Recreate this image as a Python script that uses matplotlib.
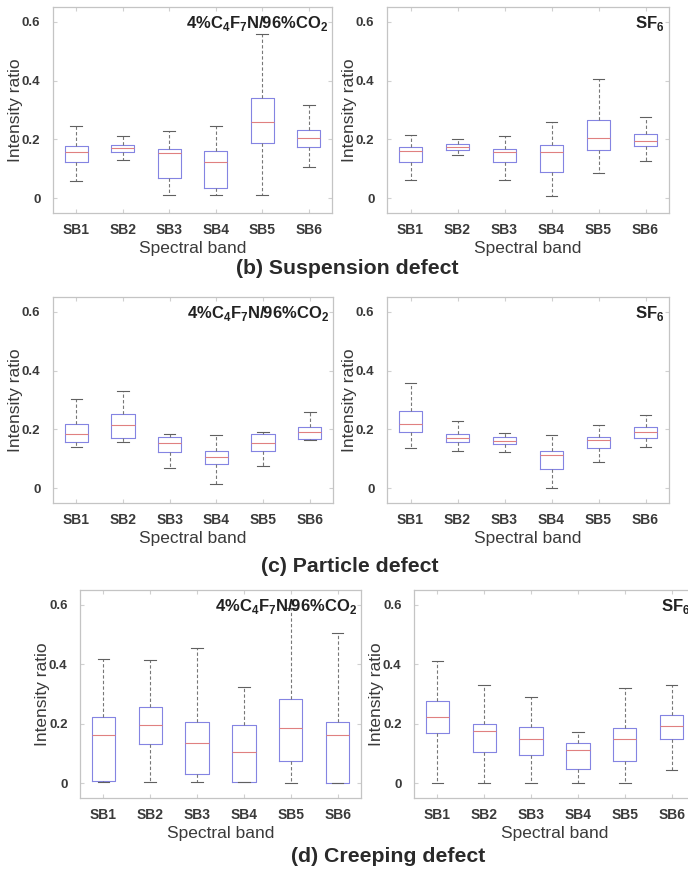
import matplotlib
matplotlib.use("Agg")
import matplotlib.pyplot as plt

plt.rcParams['font.family'] = ['Liberation Sans', 'DejaVu Sans']
plt.rcParams['mathtext.fontset'] = 'custom'
plt.rcParams['mathtext.bf'] = 'Liberation Sans:bold'
plt.rcParams['mathtext.rm'] = 'Liberation Sans:bold'

# -------- data: (whisker low, q1, median, q3, whisker high) per band --------
bands = ["SB1", "SB2", "SB3", "SB4", "SB5", "SB6"]

susp_c4 = [(0.06, 0.122, 0.157, 0.176, 0.244),
           (0.13, 0.157, 0.17, 0.18, 0.21),
           (0.01, 0.07, 0.153, 0.167, 0.227),
           (0.01, 0.034, 0.125, 0.159, 0.244),
           (0.01, 0.188, 0.258, 0.341, 0.557),
           (0.105, 0.173, 0.205, 0.231, 0.316)]
susp_sf6 = [(0.063, 0.125, 0.159, 0.173, 0.216),
            (0.148, 0.165, 0.174, 0.184, 0.202),
            (0.063, 0.125, 0.157, 0.168, 0.21),
            (0.009, 0.091, 0.157, 0.182, 0.259),
            (0.085, 0.165, 0.205, 0.267, 0.406),
            (0.128, 0.176, 0.195, 0.218, 0.276)]

part_c4 = [(0.139, 0.157, 0.185, 0.219, 0.303),
           (0.157, 0.17, 0.216, 0.252, 0.33),
           (0.068, 0.125, 0.153, 0.174, 0.185),
           (0.014, 0.082, 0.105, 0.127, 0.18),
           (0.077, 0.128, 0.153, 0.184, 0.19),
           (0.165, 0.168, 0.191, 0.207, 0.26)]
part_sf6 = [(0.136, 0.191, 0.219, 0.261, 0.358),
            (0.127, 0.157, 0.17, 0.185, 0.227),
            (0.122, 0.15, 0.161, 0.173, 0.188),
            (0.0, 0.065, 0.114, 0.128, 0.18),
            (0.091, 0.136, 0.165, 0.174, 0.214),
            (0.139, 0.17, 0.19, 0.207, 0.25)]

creep_c4 = [(0.003, 0.008, 0.162, 0.223, 0.419),
            (0.003, 0.132, 0.195, 0.257, 0.413),
            (0.003, 0.031, 0.134, 0.207, 0.455),
            (0.003, 0.003, 0.104, 0.196, 0.323),
            (0.0, 0.076, 0.187, 0.283, 0.589),
            (0.0, 0.0, 0.161, 0.206, 0.504)]
creep_sf6 = [(0.0, 0.168, 0.223, 0.277, 0.41),
             (0.0, 0.104, 0.176, 0.2, 0.331),
             (0.0, 0.094, 0.15, 0.189, 0.289),
             (0.0, 0.049, 0.113, 0.136, 0.172),
             (0.0, 0.074, 0.15, 0.187, 0.319),
             (0.043, 0.15, 0.193, 0.229, 0.331)]

gas_labels = [r"4%C$_\mathbf{4}$F$_\mathbf{7}$N/96%CO$_\mathbf{2}$", r"SF$_\mathbf{6}$"]
titles = ["(b) Suspension defect", "(c) Particle defect", "(d) Creeping defect"]

W, H = 688, 869
txt = "#3a3a3a"
frame = "#c4c4c4"


def px_axes(fig, x0, y0, x1, y1):
    return fig.add_axes([x0 / W, 1 - y1 / H, (x1 - x0) / W, (y1 - y0) / H])


def draw_panel(ax, rows, label):
    stats = [dict(whislo=r[0], q1=r[1], med=r[2], q3=r[3], whishi=r[4], fliers=[])
             for r in rows]
    ax.bxp(stats, positions=range(1, len(rows) + 1), widths=0.5,
           showfliers=False, capwidths=0.25,
           boxprops=dict(color="#8484e2", lw=0.8),
           medianprops=dict(color="#e08080", lw=0.8),
           whiskerprops=dict(color="#777777", lw=0.8, ls=(0, (3, 2))),
           capprops=dict(color="#606060", lw=0.8))
    ax.set_xlim(0.5, 6.5)
    ax.set_ylim(-0.05, 0.65)
    ax.set_yticks([0, 0.2, 0.4, 0.6])
    ax.set_yticklabels(["0", "0.2", "0.4", "0.6"])
    ax.set_xticks(range(1, 7))
    ax.set_xticklabels(bands)
    ax.tick_params(direction="in", top=True, right=True, length=3,
                   color="#d0d0d0", labelcolor=txt, labelsize=10)
    ax.tick_params(axis="x", pad=7)
    ax.tick_params(axis="y", pad=9, labelsize=9.5)
    for t in ax.get_xticklabels() + ax.get_yticklabels():
        t.set_fontweight("bold")
    for s in ax.spines.values():
        s.set_color(frame)
        s.set_linewidth(0.9)
    ax.set_xlabel("Spectral band", fontsize=12.5, color=txt, labelpad=3)
    ax.set_ylabel("Intensity ratio", fontsize=12.5, color=txt, labelpad=-1)
    ax.text(0.985, 0.965, label, transform=ax.transAxes, ha="right", va="top",
            fontsize=12, fontweight="bold", color="#222222")


fig = plt.figure(figsize=(W / 100, H / 100), dpi=100)

boxes = [
    [(53, 7, 332, 213), (387, 7, 669, 213)],
    [(53, 297, 333, 503), (387, 297, 669, 503)],
    [(80, 590, 361, 798), (414, 590, 695, 798)],
]
panels = [(susp_c4, susp_sf6), (part_c4, part_sf6), (creep_c4, creep_sf6)]
title_pos = [(347, 269), (350, 567), (388, 857)]

for row in range(3):
    for col in range(2):
        ax = px_axes(fig, *boxes[row][col])
        draw_panel(ax, panels[row][col], gas_labels[col])
    tx, ty = title_pos[row]
    fig.text(tx / W, 1 - ty / H, titles[row], ha="center", va="center",
             fontsize=15.3, fontweight="bold", color="#2a2a2a")

fig.savefig("out.png", dpi=100)
